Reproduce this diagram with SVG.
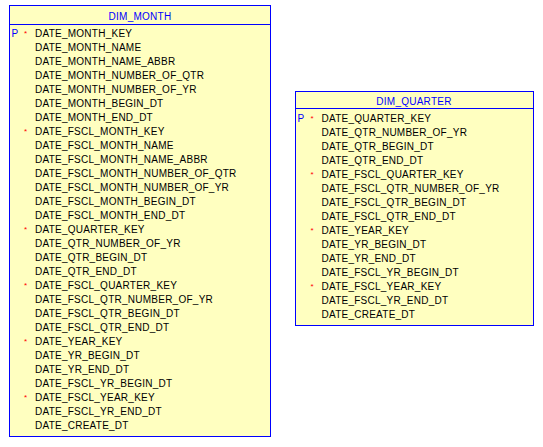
<svg xmlns="http://www.w3.org/2000/svg" width="543" height="447" viewBox="0 0 543 447">
<style>
.box{fill:#FFFFC0;stroke:#0000FF;stroke-width:1}
.hl{stroke:#0000FF;stroke-width:1}
text{font-family:"Liberation Sans",Arial,sans-serif;font-size:10px;letter-spacing:0.25px}
.t{fill:#0000FF;text-anchor:middle}
.c{fill:#000000}
.p{fill:#0000FF}
.s{fill:#FF0000;font-size:8px}
</style>
<rect width="543" height="447" fill="#FFFFFF"/>
<g id="DIM_MONTH">
<rect class="box" x="9.5" y="5.5" width="261" height="431"/>
<line class="hl" x1="9.5" y1="24.5" x2="270.5" y2="24.5"/>
<text class="t" x="140" y="19.5">DIM_MONTH</text>
<text class="p" x="11.5" y="37">P</text>
<text class="s" x="24" y="36">*</text>
<text class="s" x="24" y="134">*</text>
<text class="s" x="24" y="232">*</text>
<text class="s" x="24" y="288">*</text>
<text class="s" x="24" y="344">*</text>
<text class="s" x="24" y="400">*</text>
<text class="c" x="35">
<tspan x="35" y="37">DATE_MONTH_KEY</tspan>
<tspan x="35" y="51">DATE_MONTH_NAME</tspan>
<tspan x="35" y="65">DATE_MONTH_NAME_ABBR</tspan>
<tspan x="35" y="79">DATE_MONTH_NUMBER_OF_QTR</tspan>
<tspan x="35" y="93">DATE_MONTH_NUMBER_OF_YR</tspan>
<tspan x="35" y="107">DATE_MONTH_BEGIN_DT</tspan>
<tspan x="35" y="121">DATE_MONTH_END_DT</tspan>
<tspan x="35" y="135">DATE_FSCL_MONTH_KEY</tspan>
<tspan x="35" y="149">DATE_FSCL_MONTH_NAME</tspan>
<tspan x="35" y="163">DATE_FSCL_MONTH_NAME_ABBR</tspan>
<tspan x="35" y="177">DATE_FSCL_MONTH_NUMBER_OF_QTR</tspan>
<tspan x="35" y="191">DATE_FSCL_MONTH_NUMBER_OF_YR</tspan>
<tspan x="35" y="205">DATE_FSCL_MONTH_BEGIN_DT</tspan>
<tspan x="35" y="219">DATE_FSCL_MONTH_END_DT</tspan>
<tspan x="35" y="233">DATE_QUARTER_KEY</tspan>
<tspan x="35" y="247">DATE_QTR_NUMBER_OF_YR</tspan>
<tspan x="35" y="261">DATE_QTR_BEGIN_DT</tspan>
<tspan x="35" y="275">DATE_QTR_END_DT</tspan>
<tspan x="35" y="289">DATE_FSCL_QUARTER_KEY</tspan>
<tspan x="35" y="303">DATE_FSCL_QTR_NUMBER_OF_YR</tspan>
<tspan x="35" y="317">DATE_FSCL_QTR_BEGIN_DT</tspan>
<tspan x="35" y="331">DATE_FSCL_QTR_END_DT</tspan>
<tspan x="35" y="345">DATE_YEAR_KEY</tspan>
<tspan x="35" y="359">DATE_YR_BEGIN_DT</tspan>
<tspan x="35" y="373">DATE_YR_END_DT</tspan>
<tspan x="35" y="387">DATE_FSCL_YR_BEGIN_DT</tspan>
<tspan x="35" y="401">DATE_FSCL_YEAR_KEY</tspan>
<tspan x="35" y="415">DATE_FSCL_YR_END_DT</tspan>
<tspan x="35" y="429">DATE_CREATE_DT</tspan>
</text>
</g>
<g id="DIM_QUARTER">
<rect class="box" x="295.5" y="91.5" width="238" height="234"/>
<line class="hl" x1="295.5" y1="108.5" x2="533.5" y2="108.5"/>
<text class="t" x="414" y="104.5">DIM_QUARTER</text>
<text class="p" x="297.5" y="122">P</text>
<text class="s" x="310.5" y="121">*</text>
<text class="s" x="310.5" y="177">*</text>
<text class="s" x="310.5" y="233">*</text>
<text class="s" x="310.5" y="289">*</text>
<text class="c">
<tspan x="321.5" y="122">DATE_QUARTER_KEY</tspan>
<tspan x="321.5" y="136">DATE_QTR_NUMBER_OF_YR</tspan>
<tspan x="321.5" y="150">DATE_QTR_BEGIN_DT</tspan>
<tspan x="321.5" y="164">DATE_QTR_END_DT</tspan>
<tspan x="321.5" y="178">DATE_FSCL_QUARTER_KEY</tspan>
<tspan x="321.5" y="192">DATE_FSCL_QTR_NUMBER_OF_YR</tspan>
<tspan x="321.5" y="206">DATE_FSCL_QTR_BEGIN_DT</tspan>
<tspan x="321.5" y="220">DATE_FSCL_QTR_END_DT</tspan>
<tspan x="321.5" y="234">DATE_YEAR_KEY</tspan>
<tspan x="321.5" y="248">DATE_YR_BEGIN_DT</tspan>
<tspan x="321.5" y="262">DATE_YR_END_DT</tspan>
<tspan x="321.5" y="276">DATE_FSCL_YR_BEGIN_DT</tspan>
<tspan x="321.5" y="290">DATE_FSCL_YEAR_KEY</tspan>
<tspan x="321.5" y="304">DATE_FSCL_YR_END_DT</tspan>
<tspan x="321.5" y="318">DATE_CREATE_DT</tspan>
</text>
</g>
<g id="connectors"></g>
</svg>
